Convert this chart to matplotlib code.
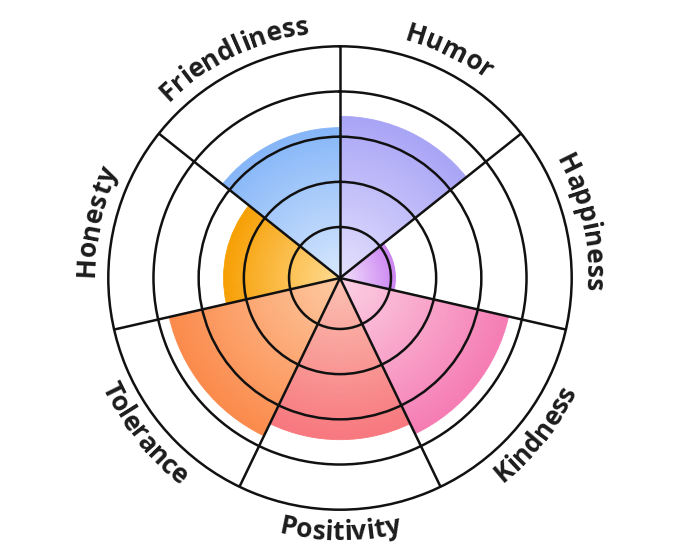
import numpy as np
import matplotlib
matplotlib.use('Agg')
import matplotlib.pyplot as plt
from matplotlib.colors import to_rgb
from matplotlib.font_manager import FontProperties
from matplotlib.textpath import TextToPath

# data
categories = ["Humor", "Happiness", "Kindness", "Positivity", "Tolerance", "Honesty", "Friendliness"]
values = [69, 22, 74, 69, 75, 49, 64]
inner_colors = ["#e4e1fd", "#f3e2fc", "#fcd2e4", "#fbc2b2", "#fdcaa2", "#ffdb92", "#d8e8fd"]
outer_colors = ["#a9a4f6", "#cc86f1", "#f57cb4", "#f7777e", "#fb8a4b", "#f7a003", "#85b6f8"]
rings = [20, 40, 60, 80, 100]
r_min = -2.56

W, H = 680, 557
cx, cy, R = 340, 279, 231.7

fig = plt.figure(figsize=(W / 100, H / 100), dpi=100)
ax = fig.add_axes([(cx - R) / W, (cy - R) / H, 2 * R / W, 2 * R / H], projection='polar')
ax.set_theta_zero_location('N')
ax.set_theta_direction(-1)

n = len(categories)
width = 2 * np.pi / n
theta = np.arange(n) * width + width / 2

# radial gradient: stack thin bars
steps = 60
for th, v, c0, c1 in zip(theta, values, inner_colors, outer_colors):
    edges = np.linspace(r_min, v, steps + 1)
    c0, c1 = np.array(to_rgb(c0)), np.array(to_rgb(c1))
    for k in range(steps):
        t = (k + 0.5) / steps
        col = c0 + (c1 - c0) * t
        ax.bar(th, edges[k + 1] - edges[k], width=width, bottom=edges[k],
               color=col, edgecolor=col, linewidth=0.6, zorder=1)

ax.set_ylim(r_min, rings[-1])
ax.set_yticks(rings[:-1])
ax.set_yticklabels([])
ax.set_xticks(np.arange(n) * width)
ax.set_xticklabels([])
ax.grid(True, color='#111111', linewidth=1.8)
ax.spines['polar'].set_color('#111111')
ax.spines['polar'].set_linewidth(1.8)
ax.set_axisbelow(False)

# curved labels on an overlay in pixel coords
ov = fig.add_axes([0, 0, 1, 1])
ov.set_xlim(0, W)
ov.set_ylim(0, H)
ov.axis('off')

fp = FontProperties(family='Open Sans', weight='bold', size=19)
t2p = TextToPath()

def adv(s):
    if not s:
        return 0.0
    w, h, d = t2p.get_text_width_height_descent(s, fp, ismath=False)
    return w * 100 / 72

for th, label in zip(theta, categories):
    phi_mid = 90 - np.degrees(th)
    phi_mid = (phi_mid + 180) % 360 - 180
    total = adv(label)
    top = np.sin(np.radians(phi_mid)) > -0.1
    r = 246 if top else 262
    for i, ch in enumerate(label):
        s = (adv(label[:i]) + adv(label[:i + 1])) / 2 - total / 2
        if top:
            phi = phi_mid - np.degrees(s / r)
            rot = phi - 90
        else:
            phi = phi_mid + np.degrees(s / r)
            rot = phi + 90
        x = cx + r * np.cos(np.radians(phi))
        y = cy + r * np.sin(np.radians(phi))
        ov.text(x, y, ch, fontproperties=fp, color='#1c1c1c', rotation=rot,
                rotation_mode='anchor', ha='center', va='baseline')

fig.savefig('out.png', dpi=100)
